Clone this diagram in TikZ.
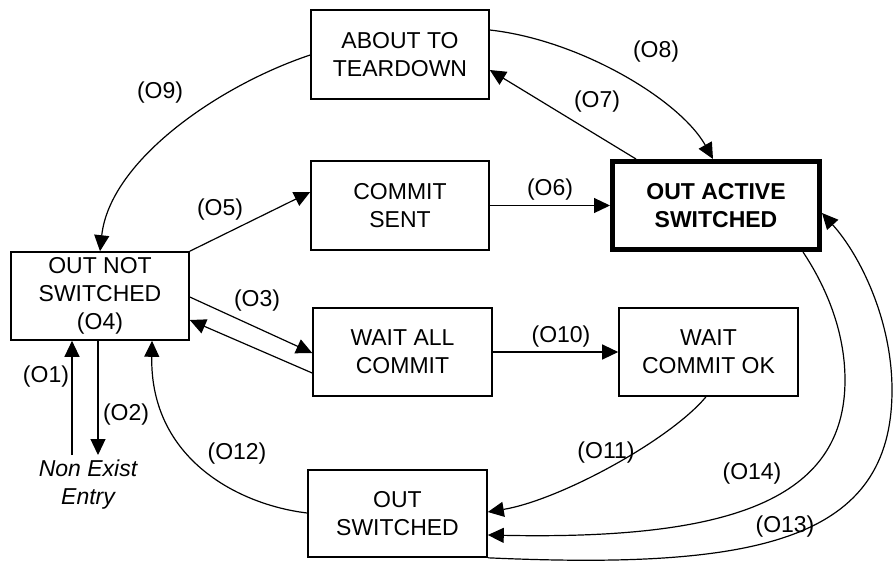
\documentclass[tikz,border=0pt]{standalone}
\usepackage{fontspec}
\setmainfont{Liberation Sans}
\usetikzlibrary{arrows.meta}
\newcommand{\diagfont}{\fontsize{23}{28}\selectfont}
\tikzset{
  state/.style={draw, line width=1.6pt, align=center, inner sep=0pt,
    font=\diagfont},
  activestate/.style={state, line width=5pt, font=\diagfont\bfseries},
  trans/.style={line width=1.2pt, -{Triangle[length=16pt,width=15pt]}},
  tlabel/.style={inner sep=0pt, font=\diagfont},
}
\begin{document}
\begin{tikzpicture}[x=1pt,y=-1pt]
\useasboundingbox (0,0) rectangle (894,566);

% states
\node[state, minimum width=178pt, minimum height=89pt] (about) at (400,54.5) {ABOUT TO\\TEARDOWN};
\node[state, minimum width=178pt, minimum height=89pt] (commit) at (400,205.5) {COMMIT\\SENT};
\node[activestate, minimum width=207pt, minimum height=88pt] (active) at (716,205.5) {OUT ACTIVE\\SWITCHED};
\node[state, minimum width=178pt, minimum height=88pt] (notsw) at (100,296) {OUT NOT\\SWITCHED\\(O4)};
\node[state, minimum width=179pt, minimum height=88pt] (waitall) at (402.5,352) {WAIT ALL\\COMMIT};
\node[state, minimum width=179pt, minimum height=88pt] (waitok) at (708.5,352) {WAIT\\COMMIT OK};
\node[state, minimum width=179pt, minimum height=87pt] (outsw) at (397.5,513.5) {OUT\\SWITCHED};
\node[tlabel, align=center, font=\diagfont\itshape] (nonexist) at (88,485) {Non Exist\\Entry};

% free ends next to the entry text
\coordinate (o1s) at (72,455);
\coordinate (o2e) at (98,455);

% transitions
\draw[trans] (o1s) -- (o1s |- notsw.south);
\draw[trans] (98,0 |- notsw.south) -- (o2e);
\draw[trans] (notsw.east |- 0,297) -- (waitall.west |- 0,353);
\draw[trans] (waitall.west |- 0,373) -- (notsw.east |- 0,320);
\draw[trans] (notsw.north east) -- (commit.west |- 0,192);
\draw[trans] (about.west |- 0,55) .. controls (220,85) and (110,160) .. (notsw.north);
\draw[trans] (commit.east) -- (active.west |- commit.east);
\draw[trans] (636,0 |- active.north) -- (about.east |- 0,70);
\draw[trans] (about.east |- 0,30) .. controls (580,40) and (680,100) .. (713,0 |- active.north);
\draw[trans] (waitall.east) -- (waitok.west |- waitall.east);
\draw[trans] (706,0 |- waitok.south) .. controls (670,440) and (560,500) .. (outsw.east |- 0,512);
\draw[trans] (803,0 |- active.south) .. controls (825,285) and (845,330) .. (845,380)
  .. controls (845,500) and (730,540) .. (outsw.east |- 0,535);
\draw[trans] (outsw.south east) .. controls (760,570) and (892,540) .. (892,390)
  .. controls (892,320) and (860,255) .. (active.east |- 0,213);
\draw[trans] (outsw.west |- 0,513) .. controls (240,505) and (150,460) .. (152,0 |- notsw.south);

% transition labels
\node[tlabel] (l1) at (46,377) {(O1)};
\node[tlabel] (l2) at (126,415) {(O2)};
\node[tlabel] (l3) at (257,301) {(O3)};
\node[tlabel] (l5) at (220,210) {(O5)};
\node[tlabel] (l6) at (550,190) {(O6)};
\node[tlabel] (l7) at (597,102) {(O7)};
\node[tlabel] (l8) at (656,52) {(O8)};
\node[tlabel] (l9) at (160,93) {(O9)};
\node[tlabel] (l10) at (561,337) {(O10)};
\node[tlabel] (l11) at (606,453) {(O11)};
\node[tlabel] (l12) at (237,454) {(O12)};
\node[tlabel] (l13) at (785,527) {(O13)};
\node[tlabel] (l14) at (752,474) {(O14)};
\end{tikzpicture}
\end{document}
